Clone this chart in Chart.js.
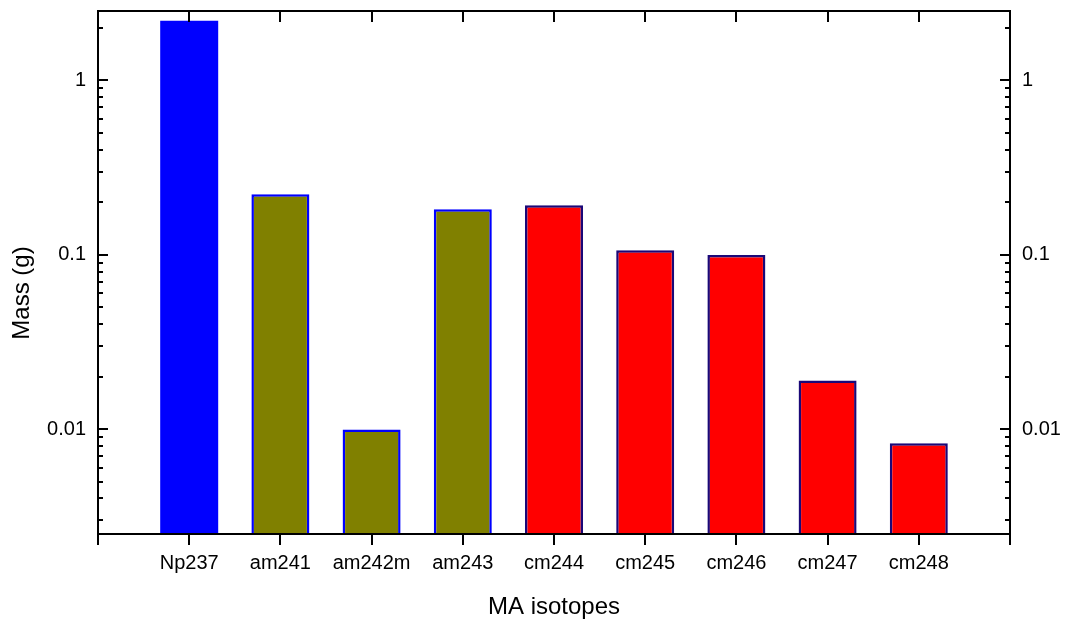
<!DOCTYPE html>
<html>
<head>
<meta charset="utf-8">
<title>MA isotopes mass</title>
<script src="https://cdn.jsdelivr.net/npm/chart.js@4/dist/chart.umd.min.js"></script>
<style>
  html, body { margin: 0; padding: 0; background: #ffffff; }
  #wrap { width: 1066px; height: 622px; }
</style>
</head>
<body>
<div id="wrap"><canvas id="chart" width="1066" height="622"></canvas></div>
<script>
// Minor actinide isotopes and their mass in grams
const categories = ['Np237', 'am241', 'am242m', 'am243', 'cm244', 'cm245', 'cm246', 'cm247', 'cm248'];
const massValues = [2.2, 0.222, 0.00995, 0.182, 0.192, 0.106, 0.0995, 0.019, 0.0083];
const fillColors = ['#0000ff', '#808000', '#808000', '#808000', '#ff0000', '#ff0000', '#ff0000', '#ff0000', '#ff0000'];
const edgeColors = ['#0000ff', '#0000ff', '#0000ff', '#0000ff', '#1a0878', '#1a0878', '#1a0878', '#1a0878', '#1a0878'];
// The Np bar's edge has its fill colour, so it is drawn as a plain block
const edgeWidths = [0, 2.5, 2.5, 2.5, 2.5, 2.5, 2.5, 2.5, 2.5];
const yTickValues = [0.01, 0.1, 1];
const yMin = 0.0025;
const yMax = 2.5;

// Empty slots at both ends give half-gap padding around the bars
const axisLabels = [''].concat(categories, ['']);
const axisData = [null].concat(massValues, [null]);
const axisFill = ['#000'].concat(fillColors, ['#000']);
const axisEdge = ['#000'].concat(edgeColors, ['#000']);
const axisEdgeWidth = [0].concat(edgeWidths, [0]);

const FONT = "'Liberation Sans', Arial, Helvetica, sans-serif";

// Frame, inward ticks on the log axes and category ticks
const framePlugin = {
  id: 'frame',
  afterDraw(chart) {
    const { ctx, chartArea: a, scales } = chart;
    const x = scales.x, y = scales.y;
    ctx.save();
    ctx.strokeStyle = '#000';
    ctx.lineWidth = 2;
    ctx.lineCap = 'butt';
    ctx.beginPath();
    ctx.rect(a.left, a.top, a.right - a.left, a.bottom - a.top);
    ctx.stroke();

    ctx.beginPath();
    // y ticks, major and minor, on both sides
    for (let e = -3; e <= 0; e++) {
      for (let m = 1; m <= 9; m++) {
        const v = m * Math.pow(10, e);
        if (v < yMin || v > yMax) continue;
        const py = Math.round(y.getPixelForValue(v));
        const len = m === 1 ? 10 : 5;
        ctx.moveTo(a.left, py); ctx.lineTo(a.left + len, py);
        ctx.moveTo(a.right, py); ctx.lineTo(a.right - len, py);
      }
    }
    // x ticks: inward on top at categories, outward at the bottom
    for (let i = 0; i < axisLabels.length; i++) {
      const px = Math.round(x.getPixelForValue(i));
      if (i > 0 && i < axisLabels.length - 1) {
        ctx.moveTo(px, a.top); ctx.lineTo(px, a.top + 11);
      }
      ctx.moveTo(px, a.bottom); ctx.lineTo(px, a.bottom + 11);
    }
    ctx.stroke();

    // y axis title
    ctx.fillStyle = '#000';
    ctx.font = '24px ' + FONT;
    ctx.textAlign = 'center';
    ctx.textBaseline = 'middle';
    ctx.translate(22, 293);
    ctx.rotate(-Math.PI / 2);
    ctx.fillText('Mass (g)', 0, 0);
    ctx.restore();
  }
};

function noScalePadding(scale) {
  scale.paddingTop = 0;
  scale.paddingBottom = 0;
  scale.paddingLeft = 0;
  scale.paddingRight = 0;
}

const logTicks = {
  afterBuildTicks(scale) { scale.ticks = yTickValues.map(v => ({ value: v })); },
  ticks: {
    callback: v => String(v),
    font: { family: FONT, size: 20 },
    color: '#000',
    padding: 12
  },
  grid: { display: false, drawTicks: false },
  border: { display: false }
};

new Chart(document.getElementById('chart'), {
  type: 'bar',
  data: {
    labels: axisLabels,
    datasets: [{
      data: axisData,
      backgroundColor: axisFill,
      borderColor: axisEdge,
      borderWidth: axisEdgeWidth,
      borderSkipped: 'start',
      barPercentage: 0.636,
      categoryPercentage: 1.0
    }]
  },
  plugins: [framePlugin],
  options: {
    responsive: false,
    animation: false,
    layout: { padding: { top: 11, right: 0, bottom: 0, left: 0 } },
    plugins: { legend: { display: false }, tooltip: { enabled: false } },
    scales: {
      x: {
        type: 'category',
        offset: false,
        afterFit(scale) { scale.height = 88; noScalePadding(scale); },
        ticks: {
          autoSkip: false, maxRotation: 0, minRotation: 0,
          font: { family: FONT, size: 20 }, color: '#000', padding: 17
        },
        grid: { display: false, drawTicks: false },
        border: { display: false },
        title: {
          display: true, text: 'MA isotopes', color: '#000',
          font: { family: FONT, size: 24 }, padding: { top: 0, bottom: 0 }
        }
      },
      y: Object.assign({
        type: 'logarithmic', position: 'left', min: yMin, max: yMax,
        afterFit(scale) { scale.width = 98; noScalePadding(scale); }
      }, logTicks),
      y2: Object.assign({
        type: 'logarithmic', position: 'right', min: yMin, max: yMax,
        afterFit(scale) { scale.width = 56; noScalePadding(scale); }
      }, logTicks)
    }
  }
});
</script>
</body>
</html>
